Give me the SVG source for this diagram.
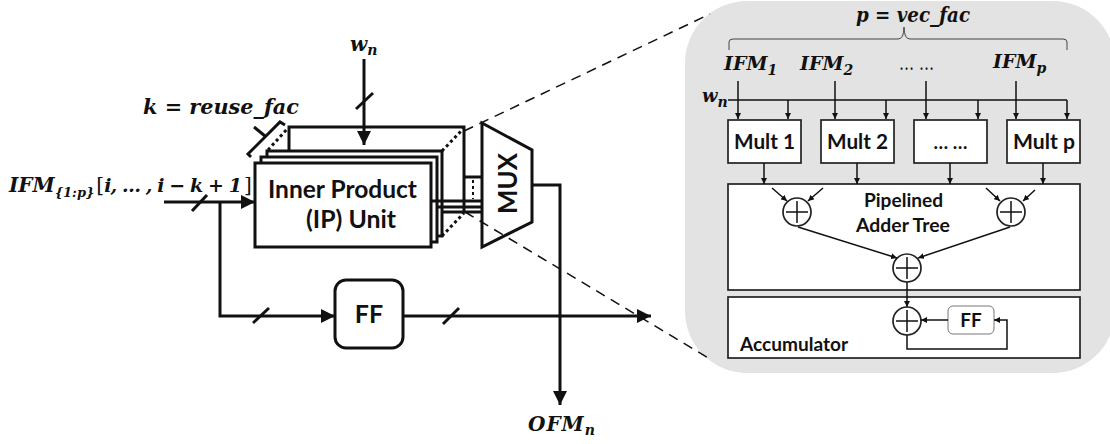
<svg xmlns="http://www.w3.org/2000/svg" width="1110" height="444" viewBox="0 0 1110 444">
<style>
.t{fill:none;stroke:#111;stroke-width:3}
.b{fill:#fff;stroke:#111;stroke-width:3}
.n{fill:none;stroke:#111;stroke-width:1.5}
.w{fill:#fff;stroke:#222;stroke-width:1.7}
.d{fill:none;stroke:#111;stroke-width:1.5;stroke-dasharray:10 7}
.o{fill:none;stroke:#111;stroke-width:3;stroke-dasharray:3 3}
.s{font-family:Lato,"Liberation Sans",sans-serif;font-weight:700;fill:#111}
.m{font-family:"DejaVu Serif",serif;font-weight:700;font-style:italic;fill:#111;font-size:20px}
.i{font-size:19px}
.u{font-size:14px}
.r{font-weight:400;font-style:normal}
.a{marker-end:url(#big)}
.e{marker-end:url(#small)}
</style>
<defs>
<marker id="big" markerUnits="userSpaceOnUse" markerWidth="14" markerHeight="14" refX="14" refY="7" orient="auto"><path d="M0 0L14 7L0 14Z" fill="#111"/></marker>
<marker id="small" markerUnits="userSpaceOnUse" markerWidth="6" markerHeight="6" refX="6" refY="3" orient="auto"><path d="M0 0L6 3L0 6Z" fill="#111"/></marker>
</defs>
<rect id="panel" x="685" y="1" width="430" height="372" rx="62" fill="#e3e3e3"/>
<g id="ip-unit">
<path class="t" d="M289 151V127H464V212"/>
<rect class="b" x="267" y="151" width="175" height="85"/>
<rect class="b" x="261" y="157" width="176" height="85"/>
<rect class="b" x="255" y="163" width="176" height="84"/>
<text class="s" x="268" y="198" font-size="25" textLength="149" lengthAdjust="spacingAndGlyphs">Inner Product</text>
<text class="s" x="306" y="228" font-size="25" textLength="90" lengthAdjust="spacingAndGlyphs">(IP) Unit</text>
</g>
<g id="mux">
<path class="b" d="M482 123L532 150V222L482 247Z"/>
<text class="s" transform="translate(517 214) rotate(-90)" font-size="27" textLength="61" lengthAdjust="spacingAndGlyphs">MUX</text>
</g>
<g id="ff">
<rect class="b" x="335" y="280" width="68" height="68" rx="11"/>
<text class="s" x="369" y="323" font-size="25" text-anchor="middle">FF</text>
</g>
<g id="labels">
<text class="m" x="350" y="51">w<tspan class="u" dy="4">n</tspan></text>
<text class="m" x="143" y="114" textLength="156" lengthAdjust="spacingAndGlyphs">k = reuse_fac</text>
<text class="m" x="9" y="192">IFM<tspan y="197" style="font-size:13px">{1:p}</tspan><tspan class="r" y="192" dx="2">[</tspan><tspan y="192" style="font-size:19px;letter-spacing:-0.9px">i, … , i − k + 1</tspan><tspan class="r" y="192" dx="3">]</tspan></text>
<text class="m" x="528" y="431" style="letter-spacing:1px">OFM<tspan class="u" dy="4">n</tspan></text>
<text class="m" x="856" y="22" textLength="114" lengthAdjust="spacingAndGlyphs">p = vec_fac</text>
<text class="m i" x="724" y="70">IFM<tspan class="u" dy="5">1</tspan></text>
<text class="m i" x="800" y="70">IFM<tspan class="u" dy="5">2</tspan></text>
<text class="m r" x="899" y="70" font-weight="700" textLength="35" lengthAdjust="spacingAndGlyphs">… …</text>
<text class="m i" x="993" y="68">IFM<tspan class="u" dy="5">p</tspan></text>
<text class="m" x="702" y="102" style="font-size:18px">w<tspan class="u" dy="5">n</tspan></text>
</g>
<g id="mult1"><rect class="w" x="728" y="120" width="73" height="43"/><text class="s" x="734" y="149" font-size="20" textLength="61" lengthAdjust="spacingAndGlyphs">Mult 1</text></g>
<g id="mult2"><rect class="w" x="821" y="120" width="73" height="43"/><text class="s" x="827" y="149" font-size="20" textLength="61" lengthAdjust="spacingAndGlyphs">Mult 2</text></g>
<g id="mult3"><rect class="w" x="914" y="120" width="73" height="43"/><text class="s" x="950.5" y="149" font-size="19" text-anchor="middle">… …</text></g>
<g id="multp"><rect class="w" x="1007" y="120" width="73" height="43"/><text class="s" x="1013" y="149" font-size="20" textLength="62" lengthAdjust="spacingAndGlyphs">Mult p</text></g>
<g id="adder-tree">
<rect class="w" x="728" y="184" width="352" height="106"/>
<text class="s" x="864" y="207" font-size="19" textLength="79" lengthAdjust="spacingAndGlyphs">Pipelined</text>
<text class="s" x="856" y="232" font-size="19" textLength="94" lengthAdjust="spacingAndGlyphs">Adder Tree</text>
<g id="add1"><circle class="w" cx="797" cy="212" r="14"/><path class="n" d="M786 212H808M797 201V223"/></g>
<g id="add2"><circle class="w" cx="1011" cy="212" r="14"/><path class="n" d="M1000 212H1022M1011 201V223"/></g>
<g id="add3"><circle class="w" cx="907" cy="268" r="14"/><path class="n" d="M896 268H918M907 257V279"/></g>
</g>
<g id="accumulator">
<rect class="w" x="728" y="297" width="352" height="61"/>
<text class="s" x="740" y="351" font-size="19" textLength="108" lengthAdjust="spacingAndGlyphs">Accumulator</text>
<g id="add4"><circle class="w" cx="907" cy="321" r="14"/><path class="n" d="M896 321H918M907 310V332"/></g>
<g id="ff2"><rect x="948" y="306" width="46" height="28" rx="5" fill="#fff" stroke="#777" stroke-width="1"/><text class="s" x="971" y="327" font-size="19" text-anchor="middle">FF</text></g>
</g>
<g id="connectors">
<path class="d" d="M464 131L710 14"/>
<path class="d" d="M465 212L710 359"/>
<path class="t a" d="M364 59V145"/>
<path class="t" d="M356 109L373 93"/>
<path class="t a" d="M164 202H255"/>
<path class="t" d="M192 211L207 195"/>
<path class="t a" d="M220 202V316H335"/>
<path class="t" d="M253 323L269 308"/>
<path class="t a" d="M403 316H651"/>
<path class="t" d="M443 324L459 308"/>
<path class="t a" d="M532 185H560V405"/>
<path class="t" d="M251 157L248 154L280 122L285 125"/>
<path class="t" d="M254 127L265 136"/>
<path class="o" d="M268 150L288 128"/>
<path class="o" d="M442 151L464 128"/>
<path class="o" d="M442 236L464 213"/>
<path class="t" d="M464 177H482M431 201H482M437 207H482M442 212H482"/>
<path class="o" d="M473 180V199" style="stroke-width:2"/>
<path class="n" d="M729 50V42Q729 39 733 39H898Q904 39 904 27Q904 39 910 39H1063Q1067 39 1067 42V50" style="stroke-width:1;stroke:#444"/>
<path class="n" d="M728 100H1067"/>
<path class="n e" d="M738 81V119"/><path class="n e" d="M835 81V119"/><path class="n e" d="M926 81V119"/><path class="n e" d="M1016 81V119"/>
<path class="n e" d="M788 100V119"/><path class="n e" d="M886 100V119"/><path class="n e" d="M978 100V119"/><path class="n e" d="M1067 100V119"/>
<path class="n e" d="M764 163V184"/><path class="n e" d="M857 163V184"/><path class="n e" d="M950 163V184"/><path class="n e" d="M1043 163V184"/>
<path class="n e" d="M772 188L787 201"/><path class="n e" d="M823 188L808 201"/><path class="n e" d="M986 188L1000 201"/><path class="n e" d="M1035 190L1023 201"/>
<path class="n e" d="M798 227L897 258"/><path class="n e" d="M1010 227L918 258"/>
<path class="n e" d="M907 282V307"/>
<path class="n e" d="M948 320H921"/>
<path class="n e" d="M907 335V349H1007V320H994"/>
</g>
</svg>
